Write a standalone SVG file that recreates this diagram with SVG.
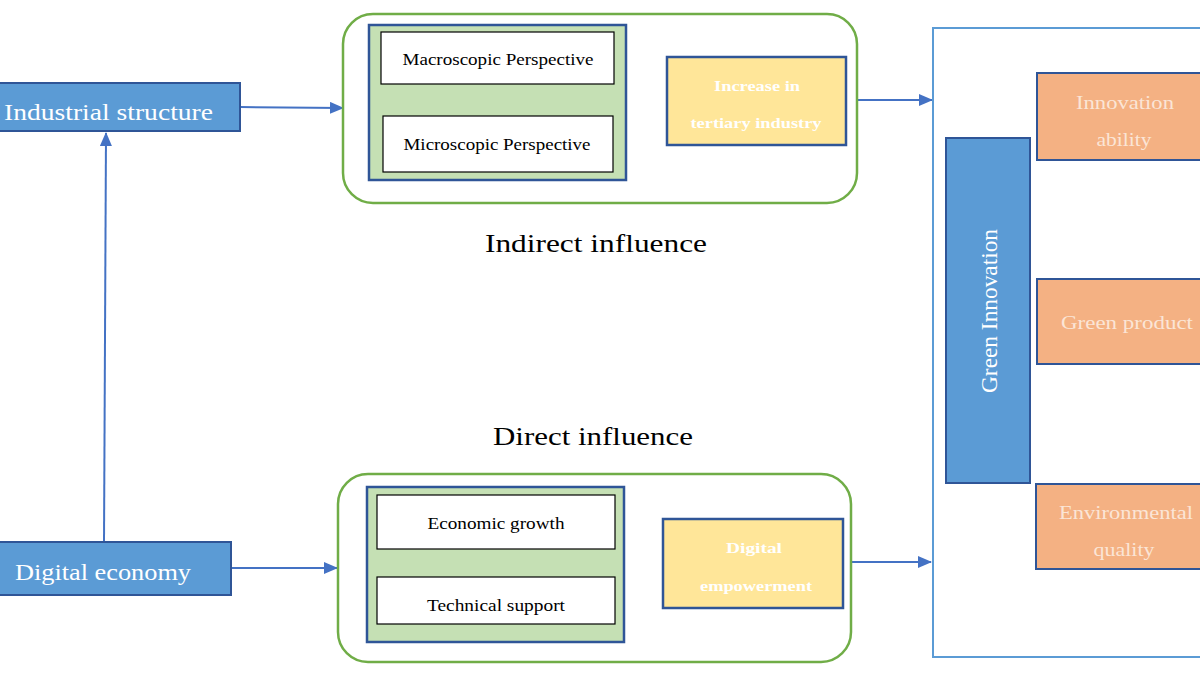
<svg xmlns="http://www.w3.org/2000/svg" width="1200" height="675" viewBox="0 0 1200 675">
<defs>
<marker id="ah" markerWidth="14" markerHeight="12" refX="13" refY="6" orient="auto" markerUnits="userSpaceOnUse">
<path d="M0,0 L14,6 L0,12 z" fill="#4472c4"/>
</marker>
<style>
text{font-family:"Liberation Serif","Times New Roman",serif}
.blue{fill:#5b9bd5;stroke:#2f5597;stroke-width:2}
.outer{fill:#fff;stroke:#70ad47;stroke-width:2.5}
.inner{fill:#c5e0b4;stroke:#2f5597;stroke-width:2.5}
.white{fill:#fff;stroke:#000;stroke-width:1.2}
.yellow{fill:#ffe699;stroke:#2f5597;stroke-width:2.5}
.orange{fill:#f4b183;stroke:#2f5597;stroke-width:2}
.frame{fill:none;stroke:#5b9bd5;stroke-width:2}
.conn{stroke:#4472c4;stroke-width:2;fill:none}
.thin{stroke:#4472c4;stroke-width:1;fill:none}
.wt{fill:#fff;font-size:24px}
.bt{fill:#000;font-size:17px;text-anchor:middle}
.yt{fill:#fff;font-size:15px;font-weight:bold;text-anchor:middle}
.ot{fill:#fbe5d6;font-size:19px;text-anchor:middle}
.lbl{fill:#000;font-size:26px;text-anchor:middle}
</style>
</defs>
<g id="connectors">
<line class="conn" x1="240" y1="107" x2="343" y2="108" marker-end="url(#ah)"/>
<line class="conn" x1="104" y1="542" x2="106" y2="133" marker-end="url(#ah)"/>
<line class="conn" x1="231" y1="568" x2="337" y2="568" marker-end="url(#ah)"/>
<line class="thin" x1="629" y1="103" x2="661" y2="103"/>
<line class="conn" x1="847" y1="100" x2="932" y2="100" marker-end="url(#ah)"/>
<line class="thin" x1="625" y1="564" x2="658" y2="564"/>
<line class="conn" x1="844" y1="562" x2="931" y2="562" marker-end="url(#ah)"/>
</g>
<g id="industrial-structure">
<rect class="blue" x="-5" y="83" width="245" height="48"/>
<text class="wt" x="4" y="120" textLength="209" lengthAdjust="spacingAndGlyphs">Industrial structure</text>
</g>
<g id="digital-economy">
<rect class="blue" x="-5" y="542" width="236" height="53"/>
<text class="wt" x="15" y="580" textLength="176" lengthAdjust="spacingAndGlyphs">Digital economy</text>
</g>
<g id="indirect-group">
<rect class="outer" x="343" y="14" width="514" height="189" rx="30"/>
<rect class="inner" x="369" y="25" width="257" height="155"/>
</g>
<g id="macroscopic">
<rect class="white" x="381" y="32" width="233" height="52"/>
<text class="bt" x="498" y="65" textLength="191" lengthAdjust="spacingAndGlyphs">Macroscopic Perspective</text>
</g>
<g id="microscopic">
<rect class="white" x="383" y="116" width="230" height="56"/>
<text class="bt" x="497" y="150" textLength="187" lengthAdjust="spacingAndGlyphs">Microscopic Perspective</text>
</g>
<g id="tertiary">
<rect class="yellow" x="667" y="57" width="179" height="88"/>
<text class="yt" x="757" y="91" textLength="86" lengthAdjust="spacingAndGlyphs">Increase in</text>
<text class="yt" x="756" y="128" textLength="131" lengthAdjust="spacingAndGlyphs">tertiary industry</text>
</g>
<g id="indirect-label"><text class="lbl" x="596" y="252" textLength="222" lengthAdjust="spacingAndGlyphs">Indirect influence</text></g>
<g id="direct-label"><text class="lbl" x="593" y="445" textLength="200" lengthAdjust="spacingAndGlyphs">Direct influence</text></g>
<g id="direct-group">
<rect class="outer" x="338" y="474" width="513" height="188" rx="30"/>
<rect class="inner" x="367" y="487" width="257" height="155"/>
</g>
<g id="economic-growth">
<rect class="white" x="377" y="495" width="238" height="54"/>
<text class="bt" x="496" y="529" textLength="137" lengthAdjust="spacingAndGlyphs">Economic growth</text>
</g>
<g id="technical-support">
<rect class="white" x="377" y="577" width="238" height="47"/>
<text class="bt" x="496" y="611" textLength="138" lengthAdjust="spacingAndGlyphs">Technical support</text>
</g>
<g id="digital-empowerment">
<rect class="yellow" x="663" y="519" width="180" height="89"/>
<text class="yt" x="754" y="553" textLength="56" lengthAdjust="spacingAndGlyphs">Digital</text>
<text class="yt" x="756" y="591" textLength="112" lengthAdjust="spacingAndGlyphs">empowerment</text>
</g>
<g id="green-frame">
<rect class="frame" x="933" y="28" width="280" height="629"/>
</g>
<g id="green-innovation">
<rect class="blue" x="946" y="138" width="84" height="345"/>
<text class="wt" transform="translate(997,311) rotate(-90)" text-anchor="middle" textLength="164" lengthAdjust="spacingAndGlyphs">Green Innovation</text>
</g>
<g id="innovation-ability">
<rect class="orange" x="1037" y="73" width="180" height="87"/>
<text class="ot" x="1125" y="109" textLength="98" lengthAdjust="spacingAndGlyphs">Innovation</text>
<text class="ot" x="1124" y="146" textLength="55" lengthAdjust="spacingAndGlyphs">ability</text>
</g>
<g id="green-product">
<rect class="orange" x="1037" y="279" width="180" height="85"/>
<text class="ot" x="1127" y="329" textLength="132" lengthAdjust="spacingAndGlyphs">Green product</text>
</g>
<g id="environmental-quality">
<rect class="orange" x="1036" y="484" width="180" height="85"/>
<text class="ot" x="1126" y="519" textLength="134" lengthAdjust="spacingAndGlyphs">Environmental</text>
<text class="ot" x="1124" y="556" textLength="61" lengthAdjust="spacingAndGlyphs">quality</text>
</g>
</svg>
